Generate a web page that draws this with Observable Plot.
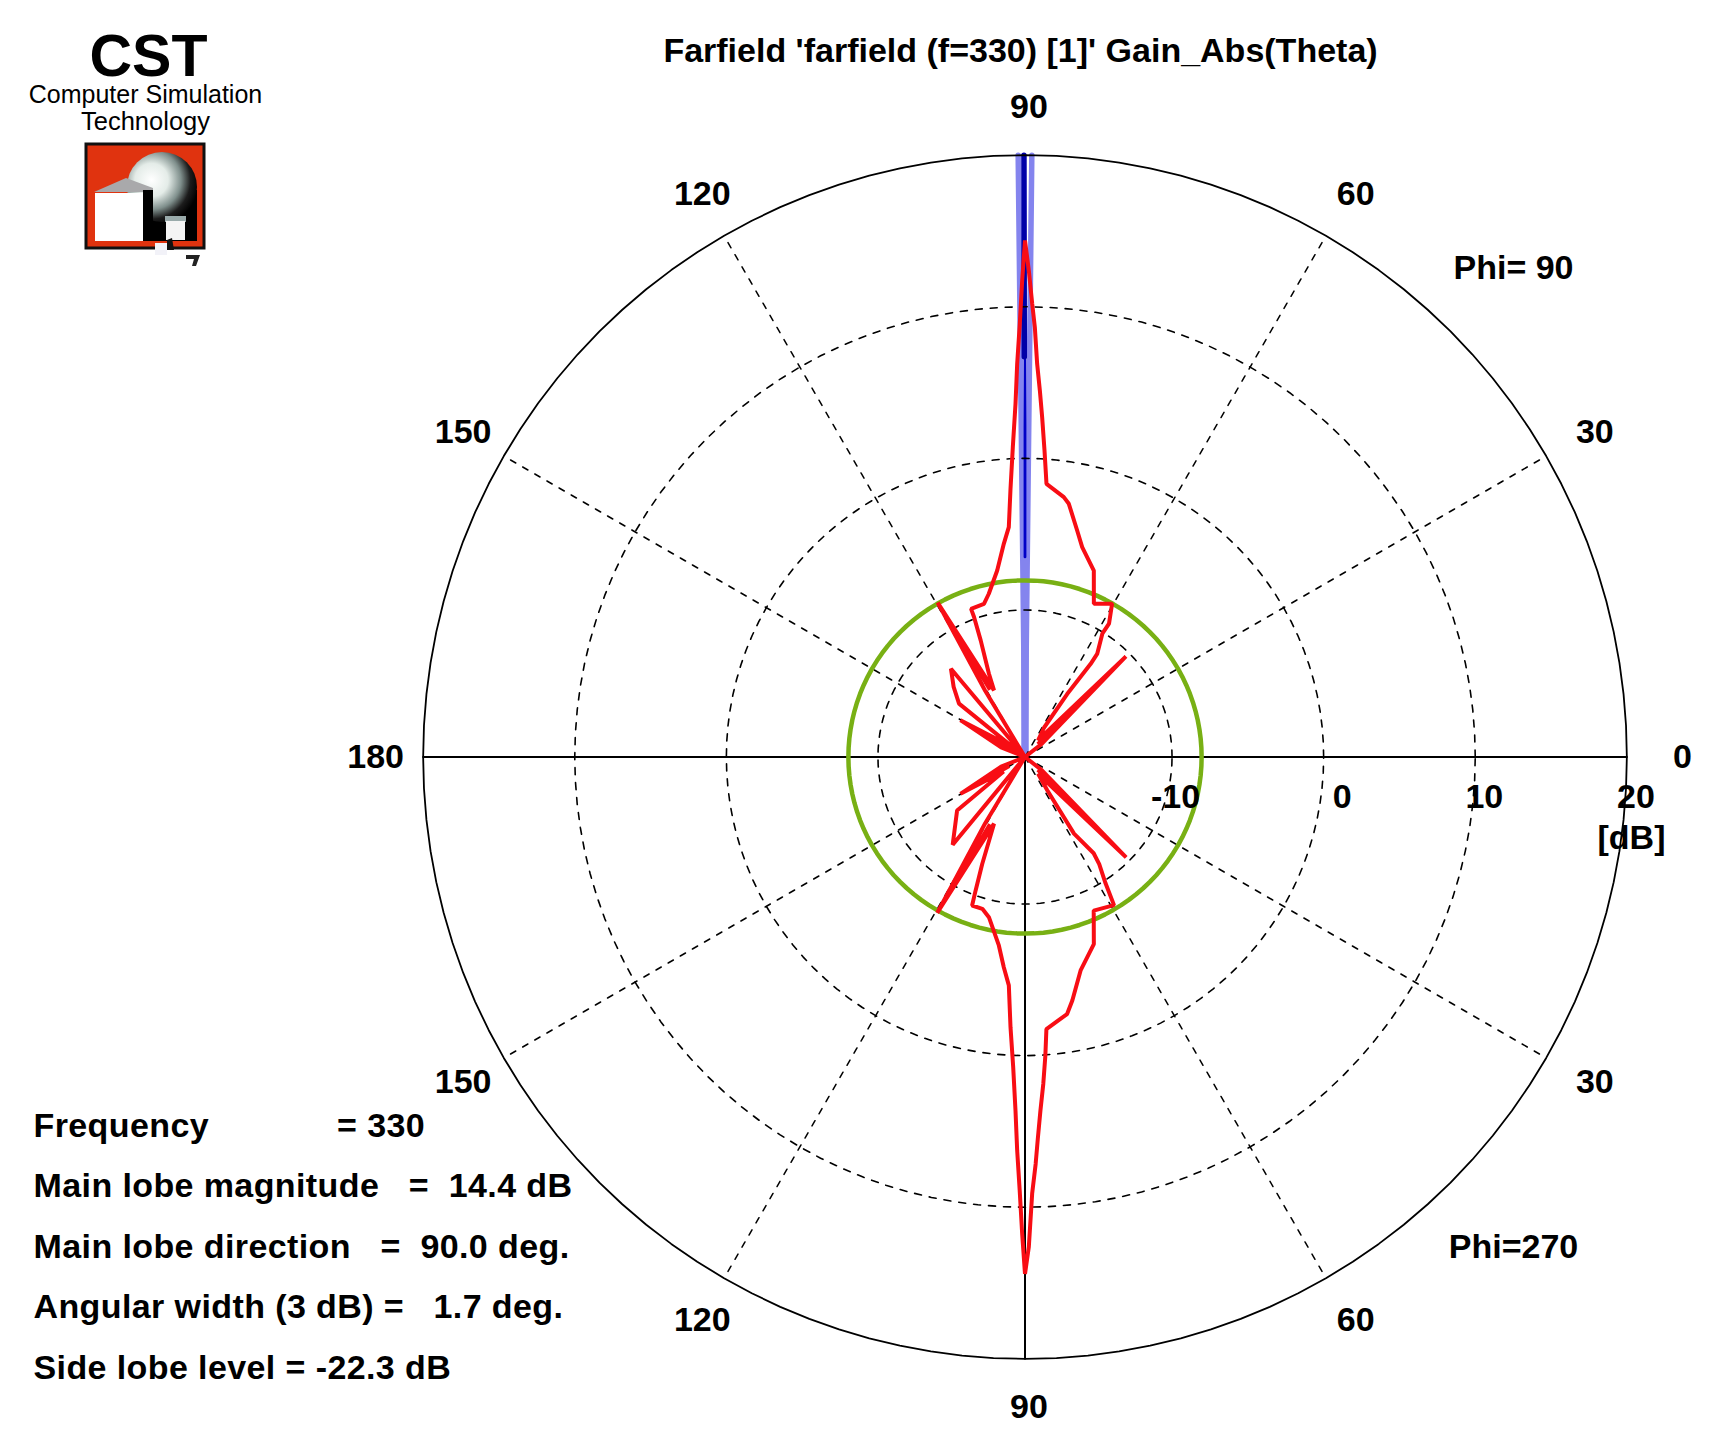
<!DOCTYPE html>
<html>
<head>
<meta charset="utf-8">
<script src="https://cdn.jsdelivr.net/npm/d3@7"></script>
<script src="https://cdn.jsdelivr.net/npm/@observablehq/plot@0.6"></script>
<style>
html,body{margin:0;padding:0;background:#fff}
svg{display:block}
</style>
</head>
<body>
<div id="chart"></div>
<script>
// ---- data (angle on the polar chart in degrees, gain in dB) ----
const lobeAngles = [0,38,44.9,45,44.9,52,57,56.2,54.8,55,57.9,57.8,60.4,65.8,69.74,74.76,77.03,80.18,81.5,85.5,86.36,87.11,87.68,88.23,88.69,89.09,89.55,90,
  90.34,90.69,91.14,91.54,92.25,93.1,94.03,95.68,98.48,102.5,105,110,110,110.8,113.4,114.9,119.5,117.5,119.5,121,118,
  130,135.5,141,144,146,150.3,150,150.3,158,180,
  202,209.7,210,209.7,214,218.2,230.5,232,239,240.6,242.5,240.6,245.1,248.2,249.7,250.4,254.3,257.3,262.1,264.24,265.95,266.93,267.82,268.46,268.86,269.3,269.66,270,
  270.45,270.94,271.5,271.92,272.5,273.2,273.9,274.5,279.3,281,284.6,290.2,294.1,301,302.5,304.7,305.5,302.6,303.8,308,315.2,315,315.2,322,360];
const lobeGains = [-19.7,-18.3,-10.3,-18.5,-10.3,-18.3,-17.4,-14.7,-12.2,-11.4,-10.1,-9.3,-8.07,-8.62,-6.59,-5.35,-4.37,-2.75,-2.37,-1.63,0.56,2.74,4.5,6.25,8.66,10.2,12.39,14.37,
  11.73,8.88,6.24,3.6,0.75,-2,-4.5,-5.57,-7.26,-8.67,-9.24,-9.3,-9.87,-11.47,-13.7,-14.85,-8.0,-14.7,-8.0,-14.6,-19.7,
  -12.1,-13.1,-14.1,-19.7,-18,-14.8,-18.5,-14.8,-18,-19.7,
  -18,-14.8,-18.5,-14.8,-18,-14,-12.2,-19.7,-14.6,-7.9,-14.7,-7.9,-14.85,-12.1,-10.3,-9.3,-9.3,-8.87,-7.15,-5.76,-4.6,-1.85,0.77,3.63,6.26,8.9,11.75,14.4,
  12.6,9.1,7.15,5.5,3.64,1.9,0.04,-1.7,-2.52,-3.34,-5.15,-6.55,-8.6,-8.3,-9.8,-11.1,-11.9,-13.7,-17.06,-18.3,-10.3,-18.5,-10.3,-18.3,-19.7];
const centerDb = -19.7;
const outerDb = 20;
const dashedRings = [10, 0, -10];
const radialTicks = [-10, 0, 10, 20];
const sideLobeDb = -8.05;
const dashedSpokes = [30, 60, 120, 150, 210, 240, 300, 330];
const solidSpokes = [0, 180, 270];
const angleTickAngles = [90, 60, 30, 0, 120, 150, 180, 210, 240, 270, 300, 330];
const angleTickText = ["90", "60", "30", "0", "120", "150", "180", "150", "120", "90", "60", "30"];
const beamAngles = [89.35, 90.65];
const titleText = "Farfield 'farfield (f=330) [1]' Gain_Abs(Theta)";
const infoLines = ["Frequency             = 330", "Main lobe magnitude   =  14.4 dB", "Main lobe direction   =  90.0 deg.", "Angular width (3 dB) =   1.7 deg.", "Side lobe level = -22.3 dB"];

// ---- layout ----
const W = 1718, H = 1443, cx = 1024.5, cy = 756.5, pxPerDb = 15.16;
const FONT = "'Liberation Sans',Arial,sans-serif";
const pol = (a, db) => {
  const r = db - centerDb, t = a * Math.PI / 180;
  return {x: r * Math.cos(t), y: r * Math.sin(t)};
};
const circle = db => d3.range(0, 361, 3).map(a => pol(a, db));
const lobe = lobeAngles.map((a, i) => pol(a, lobeGains[i]));
const ray = (a, d0, d1) => [pol(a, d0), pol(a, d1)];
const tickPos = (a, db) => { const p = pol(a, db); return {x: p.x, y: p.y * 0.995}; };

const label = (s, px, py, anchor = "middle", size = 34, weight = "bold") =>
  Plot.text([s], {text: d => d, frameAnchor: "top-left", dx: px, dy: py, textAnchor: anchor, lineAnchor: "bottom",
    fontSize: size, fontWeight: weight, fontFamily: FONT, fill: "#000"});

// the CST logo, not a data mark
function logo() {
  const g = d3.create("svg:g");
  const defs = g.append("defs");
  const rg = defs.append("radialGradient").attr("id", "ball").attr("cx", 0.35).attr("cy", 0.4).attr("r", 0.68);
  [[0, "#ffffff"], [0.35, "#e4ece8"], [0.62, "#7f8f8c"], [0.82, "#1c1c1c"], [1, "#000"]].forEach(([o, c]) => rg.append("stop").attr("offset", o).attr("stop-color", c));
  g.append("rect").attr("x", 86).attr("y", 144).attr("width", 118).attr("height", 104).attr("fill", "#e0330f").attr("stroke", "#111").attr("stroke-width", 3);
  g.append("path").attr("d", "M150 190 H197 V241 H150 Z").attr("fill", "#000");
  g.append("circle").attr("cx", 162).attr("cy", 187).attr("r", 35).attr("fill", "url(#ball)");
  g.append("path").attr("d", "M94 192 L126 178 L153 188 V240 H143 V192 Z").attr("fill", "#a9a9ab");
  g.append("path").attr("d", "M143 190 H153 V241 H143 Z").attr("fill", "#000");
  g.append("rect").attr("x", 95).attr("y", 193).attr("width", 48).attr("height", 48).attr("fill", "#fff");
  g.append("rect").attr("x", 165).attr("y", 216).attr("width", 21).attr("height", 6).attr("fill", "#9aa");
  g.append("rect").attr("x", 166).attr("y", 221).attr("width", 19).attr("height", 19).attr("fill", "#f4f4f4");
  g.append("rect").attr("x", 155).attr("y", 243).attr("width", 12).attr("height", 12).attr("fill", "#f2f2f8");
  g.append("path").attr("d", "M167 240 L172 238 L174 250 H167 Z").attr("fill", "#111");
  g.append("path").attr("d", "M186 255 H200 L196 266 H192 L194 259 H186 Z").attr("fill", "#222");
  return g.node();
}

const marks = [
  // beam-width rays and main-lobe direction
  ...beamAngles.map(a => Plot.line(ray(a, centerDb, outerDb), {x: "x", y: "y", stroke: "#8484ee", strokeWidth: 5.5})),
  Plot.line(ray(90, centerDb, -6.5), {x: "x", y: "y", stroke: "#8484ee", strokeWidth: 7.5}),
  Plot.line(ray(90, -6.5, 6.7), {x: "x", y: "y", stroke: "#0000c8", strokeWidth: 2.8}),
  Plot.line(ray(90.1, 6.7, outerDb), {x: "x", y: "y", stroke: "#0000a8", strokeWidth: 5.5}),
  // grid
  ...dashedRings.map(db => Plot.line(circle(db), {x: "x", y: "y", stroke: "#000", strokeWidth: 1.6, strokeDasharray: "7 8"})),
  ...dashedSpokes.map(a => Plot.line(ray(a, centerDb, outerDb), {x: "x", y: "y", stroke: "#000", strokeWidth: 1.5, strokeDasharray: "6 8"})),
  ...solidSpokes.map(a => Plot.line(ray(a, centerDb, outerDb), {x: "x", y: "y", stroke: "#000", strokeWidth: 2})),
  Plot.line(circle(outerDb), {x: "x", y: "y", stroke: "#000", strokeWidth: 1.8}),
  // side-lobe level circle and the pattern
  Plot.line(circle(sideLobeDb), {x: "x", y: "y", stroke: "#78b014", strokeWidth: 4.5}),
  Plot.line(lobe, {x: "x", y: "y", stroke: "#f80d14", strokeWidth: 4, strokeLinejoin: "miter", curve: "linear"}),
  // angle ticks
  Plot.text(angleTickAngles.map((a, i) => ({...tickPos(a, 23.4), t: angleTickText[i]})), {x: "x", y: "y", text: "t", dx: 4, fontSize: 34, fontWeight: "bold", fontFamily: FONT, fill: "#000", textAnchor: "middle", lineAnchor: "middle"}),
  // radial ticks
  Plot.text(radialTicks.map(d => ({...pol(0, d), t: String(d)})), {x: "x", y: "y", text: "t", dx: 28, dy: 40, fontSize: 34, fontWeight: "bold", fontFamily: FONT, fill: "#000", textAnchor: "end", lineAnchor: "middle"}),
  label("[dB]", 1631, 848),
  label(titleText, 1020, 61),
  label("Phi= 90", 1513, 278),
  label("Phi=270", 1513, 1257),
  ...infoLines.map((s, i) => label(s, 33, 1136 + i * 60.5, "start")),
  label("CST", 148, 75, "middle", 59, "bold"),
  label("Computer Simulation", 145, 102, "middle", 25, "normal"),
  label("Technology", 145, 129, "middle", 25.5, "normal"),
  logo
];

const chart = Plot.plot({
  width: W, height: H,
  marginTop: 0, marginRight: 0, marginBottom: 0, marginLeft: 0,
  style: {background: "#fff", whiteSpace: "pre", overflow: "visible"},
  x: {type: "linear", domain: [-cx / pxPerDb, (W - cx) / pxPerDb], range: [0, W], axis: null},
  y: {type: "linear", domain: [-(H - cy) / pxPerDb, cy / pxPerDb], range: [H, 0], axis: null},
  marks
});
chart.querySelectorAll("text").forEach(t => { if (infoLines.includes(t.textContent)) t.style.letterSpacing = "0.4px"; });
document.getElementById("chart").appendChild(chart);
</script>
</body>
</html>
